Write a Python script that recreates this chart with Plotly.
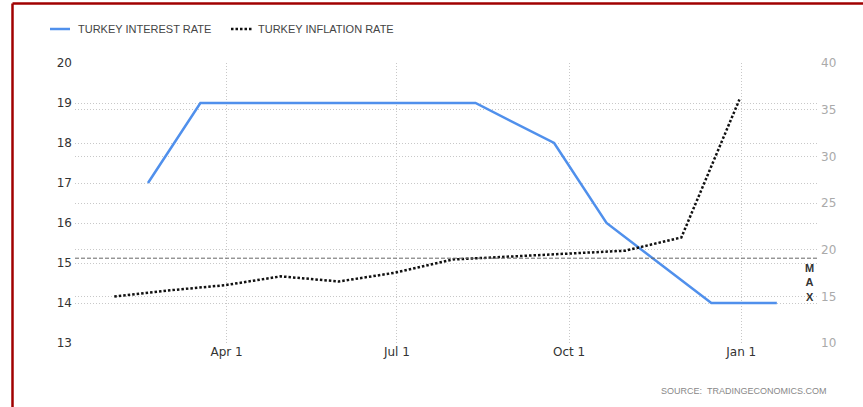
import plotly.graph_objects as go

# --- data ---------------------------------------------------------------
rate_dates = ["2021-02-18", "2021-03-18", "2021-04-15", "2021-05-06", "2021-06-17",
              "2021-07-14", "2021-08-12", "2021-09-23", "2021-10-21", "2021-11-18",
              "2021-12-16", "2022-01-20"]
rate_values = [17, 19, 19, 19, 19, 19, 19, 18, 16, 15, 14, 14]

infl_dates = ["2021-01-31", "2021-02-28", "2021-03-31", "2021-04-30", "2021-05-31",
              "2021-06-30", "2021-07-31", "2021-08-31", "2021-09-30", "2021-10-31",
              "2021-11-30", "2021-12-31"]
infl_values = [14.97, 15.61, 16.19, 17.14, 16.59, 17.53, 18.95, 19.25, 19.58, 19.89,
               21.31, 36.08]

x_tick_vals = ["2021-04-01", "2021-07-01", "2021-10-01", "2022-01-01"]
x_tick_text = ["Apr 1", "Jul 1", "Oct 1", "Jan 1"]

max_level = 15.12  # dashed "MAX" reference line (left axis)

RATE_NAME = "TURKEY INTEREST RATE"
INFL_NAME = "TURKEY INFLATION RATE"
BLUE = "#5090ec"

# --- figure -------------------------------------------------------------
W, H = 863, 407
L, R, T, B = 75, 45, 63, 64
pw, ph = W - L - R, H - T - B


def px_x(x):
    return (x - L) / pw


def px_y(y):
    return (H - B - y) / ph


fig = go.Figure()
fig.add_trace(go.Scatter(
    x=rate_dates, y=rate_values, mode="lines", name=RATE_NAME,
    line=dict(color=BLUE, width=2.5), yaxis="y",
))
fig.add_trace(go.Scatter(
    x=infl_dates, y=infl_values, mode="lines", name=INFL_NAME,
    line=dict(color="#111111", width=2.5, dash="2.5px,2px"), yaxis="y2",
))

grid = dict(showgrid=True, gridcolor="#c8c8c8", griddash="1px,2px", gridwidth=1)

fig.update_layout(
    width=W, height=H,
    margin=dict(l=L, r=R, t=T, b=B),
    paper_bgcolor="white", plot_bgcolor="white",
    font=dict(family="DejaVu Sans", size=12, color="#333"),
    xaxis=dict(type="date", range=["2021-01-10", "2022-02-11"],
               tickvals=x_tick_vals, ticktext=x_tick_text,
               showline=False, zeroline=False, ticks="",
               tickfont=dict(size=12, color="#333"), **grid),
    yaxis=dict(range=[13, 20], dtick=1, showline=False, zeroline=False,
               tickfont=dict(size=12, color="#333"), ticklabelstandoff=2, **grid),
    yaxis2=dict(range=[10, 40], dtick=5, overlaying="y", side="right",
                showline=False, zeroline=False,
                tickfont=dict(size=12, color="#aaaaaa"), ticklabelstandoff=2, **grid),
    showlegend=False,
)

# legend drawn by hand (short line swatches like the original)
leg_font = dict(family="Liberation Sans", size=11, color="#444")
fig.add_shape(type="line", xref="paper", yref="paper",
              x0=px_x(50), x1=px_x(70), y0=px_y(29), y1=px_y(29),
              line=dict(color=BLUE, width=2.5))
fig.add_annotation(xref="paper", yref="paper", x=px_x(76), y=px_y(29),
                   xanchor="left", yanchor="middle", showarrow=False,
                   text=RATE_NAME, font=leg_font)
fig.add_shape(type="line", xref="paper", yref="paper",
              x0=px_x(231), x1=px_x(252), y0=px_y(29), y1=px_y(29),
              line=dict(color="#111111", width=2.5, dash="2.5px,2px"))
fig.add_annotation(xref="paper", yref="paper", x=px_x(256), y=px_y(29),
                   xanchor="left", yanchor="middle", showarrow=False,
                   text=INFL_NAME, font=leg_font)

# MAX dashed line + label
fig.add_shape(type="line", xref="paper", yref="y", x0=0, x1=1,
              y0=max_level, y1=max_level, line=dict(color="#666", width=1, dash="4px,2px"))
fig.add_annotation(xref="paper", yref="paper", x=px_x(809), y=px_y(282),
                   xanchor="center", yanchor="middle",
                   text="<b>M</b><br><b>A</b><br><b>X</b>", showarrow=False,
                   font=dict(family="Liberation Sans", size=11, color="#333"),
                   align="center")

# source
fig.add_annotation(xref="paper", yref="paper", x=px_x(829), y=px_y(391),
                   xanchor="right", yanchor="middle", showarrow=False,
                   text="SOURCE:&nbsp;&nbsp;TRADINGECONOMICS.COM",
                   font=dict(family="Liberation Sans", size=9, color="#888"))

# dark red frame (left and top edges)
fig.add_shape(type="line", xref="paper", yref="paper",
              x0=px_x(12.5), x1=px_x(12.5), y0=px_y(3.5), y1=px_y(420),
              line=dict(color="#a00000", width=2.5))
fig.add_shape(type="line", xref="paper", yref="paper",
              x0=px_x(12.5), x1=px_x(880), y0=px_y(3.5), y1=px_y(3.5),
              line=dict(color="#a00000", width=2.5))

fig.write_html("out.html", config={"displayModeBar": False},
               post_script="document.body.style.margin='0';"
                           "document.body.style.overflow='hidden';")
